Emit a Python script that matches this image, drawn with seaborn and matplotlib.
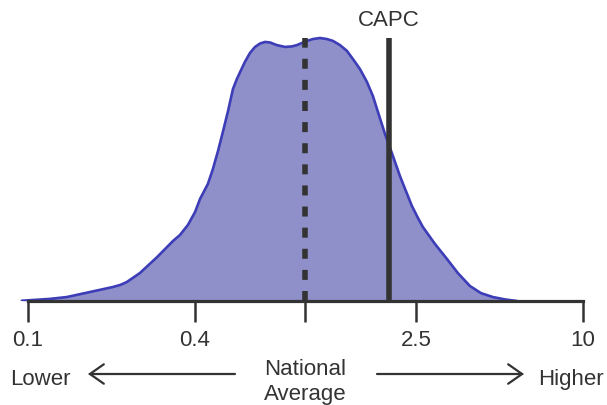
import numpy as np
import pandas as pd
import matplotlib
matplotlib.use("Agg")
import matplotlib.pyplot as plt
from matplotlib.patches import FancyArrowPatch
from matplotlib.ticker import NullLocator
import seaborn as sns

# Distribution of the ratio to the national average (log scale), relative density
ratio = [0.095, 0.120, 0.138, 0.167, 0.202, 0.215, 0.227, 0.253, 0.292, 0.333,
         0.353, 0.377, 0.400, 0.417, 0.445, 0.464, 0.484, 0.504, 0.526, 0.548,
         0.566, 0.586, 0.605, 0.631, 0.658, 0.686, 0.715, 0.745, 0.789, 0.844,
         0.894, 0.932, 0.971, 1.013, 1.064, 1.128, 1.195, 1.256, 1.332, 1.411,
         1.483, 1.572, 1.666, 1.751, 1.811, 1.935, 2.067, 2.191, 2.302, 2.420,
         2.543, 2.651, 2.929, 3.235, 3.544, 3.916, 4.290, 4.740, 5.236, 5.784]
density = [0.001, 0.008, 0.015, 0.034, 0.053, 0.061, 0.072, 0.106, 0.167, 0.228,
           0.251, 0.289, 0.338, 0.388, 0.445, 0.502, 0.570, 0.643, 0.722, 0.806,
           0.844, 0.878, 0.909, 0.943, 0.966, 0.979, 0.985, 0.983, 0.973, 0.966,
           0.968, 0.973, 0.981, 0.989, 0.996, 1.000, 0.996, 0.989, 0.973, 0.951,
           0.920, 0.882, 0.833, 0.779, 0.730, 0.635, 0.551, 0.475, 0.418, 0.361,
           0.316, 0.281, 0.217, 0.160, 0.106, 0.057, 0.030, 0.015, 0.006, 0.000]

national_average = 1.0
capc_value = 2.0
marker_height = 1.0

tick_values = [0.1, 0.4, 1.0, 2.5, 10]
tick_labels = ["0.1", "0.4", "", "2.5", "10"]

df = pd.DataFrame({"ratio": ratio, "density": density})

sns.set_theme(style="white")
plt.rcParams["font.family"] = ["Liberation Sans", "DejaVu Sans"]

ink = "#333333"
fill_color = "#8f8fc9"
edge_color = "#3d3db8"
fs = 16

W, H = 607, 406
fig = plt.figure(figsize=(W / 100, H / 100), dpi=100)
ax = fig.add_axes([0, (H - 302) / H, 1, 302 / H])

ax.fill_between(df["ratio"], 0, df["density"], color=fill_color, lw=0, zorder=1)
sns.lineplot(data=df, x="ratio", y="density", color=edge_color, lw=1.9,
             ax=ax, zorder=2, sort=False)
for ln in ax.lines:
    ln.set_solid_joinstyle("round")

ax.vlines(national_average, 0, marker_height, colors=ink, lw=4,
          linestyles=(0, (1.8, 2.0)), zorder=3, capstyle="butt")
ax.vlines(capc_value, 0, marker_height, colors=ink, lw=4, zorder=3)
ax.text(capc_value, marker_height + 0.03, "CAPC", ha="center", va="bottom",
        fontsize=fs, color=ink)

ax.set_xscale("log")
ax.set_xlim(0.0793, 12.21)
ax.set_ylim(0, 302 / 263)
ax.set_xticks(tick_values)
ax.set_xticklabels(tick_labels)
ax.xaxis.set_minor_locator(NullLocator())
ax.set_yticks([])
ax.set_xlabel("")
ax.set_ylabel("")
ax.tick_params(axis="x", direction="out", length=15, width=1.8, colors=ink,
               labelsize=fs, labelcolor=ink, pad=5, bottom=True)
for side in ["left", "right", "top"]:
    ax.spines[side].set_visible(False)
ax.spines["bottom"].set_bounds(0.1, 10)
ax.spines["bottom"].set_color(ink)
ax.spines["bottom"].set_linewidth(2.3)
ax.spines["bottom"].set_zorder(4)
ax.set_facecolor("none")


def fpos(px, py):
    return (px / W, 1 - py / H)


fig.text(*fpos(40, 385), "Lower", ha="center", va="baseline", fontsize=fs, color=ink)
fig.text(*fpos(571, 385), "Higher", ha="center", va="baseline", fontsize=fs, color=ink)
fig.text(*fpos(305.5, 375), "National", ha="center", va="baseline", fontsize=fs, color=ink)
fig.text(*fpos(305.5, 400), "Average", ha="center", va="baseline", fontsize=fs, color=ink)

arrow = dict(arrowstyle="->,head_length=1.0,head_width=0.7", color=ink, lw=1.6,
             shrinkA=0, shrinkB=0, mutation_scale=10, joinstyle="miter")
fig.add_artist(FancyArrowPatch(fpos(235, 375), fpos(88, 375),
                               transform=fig.transFigure, **arrow))
fig.add_artist(FancyArrowPatch(fpos(377, 375), fpos(524, 375),
                               transform=fig.transFigure, **arrow))

fig.savefig("out.png", dpi=100, facecolor="white")
